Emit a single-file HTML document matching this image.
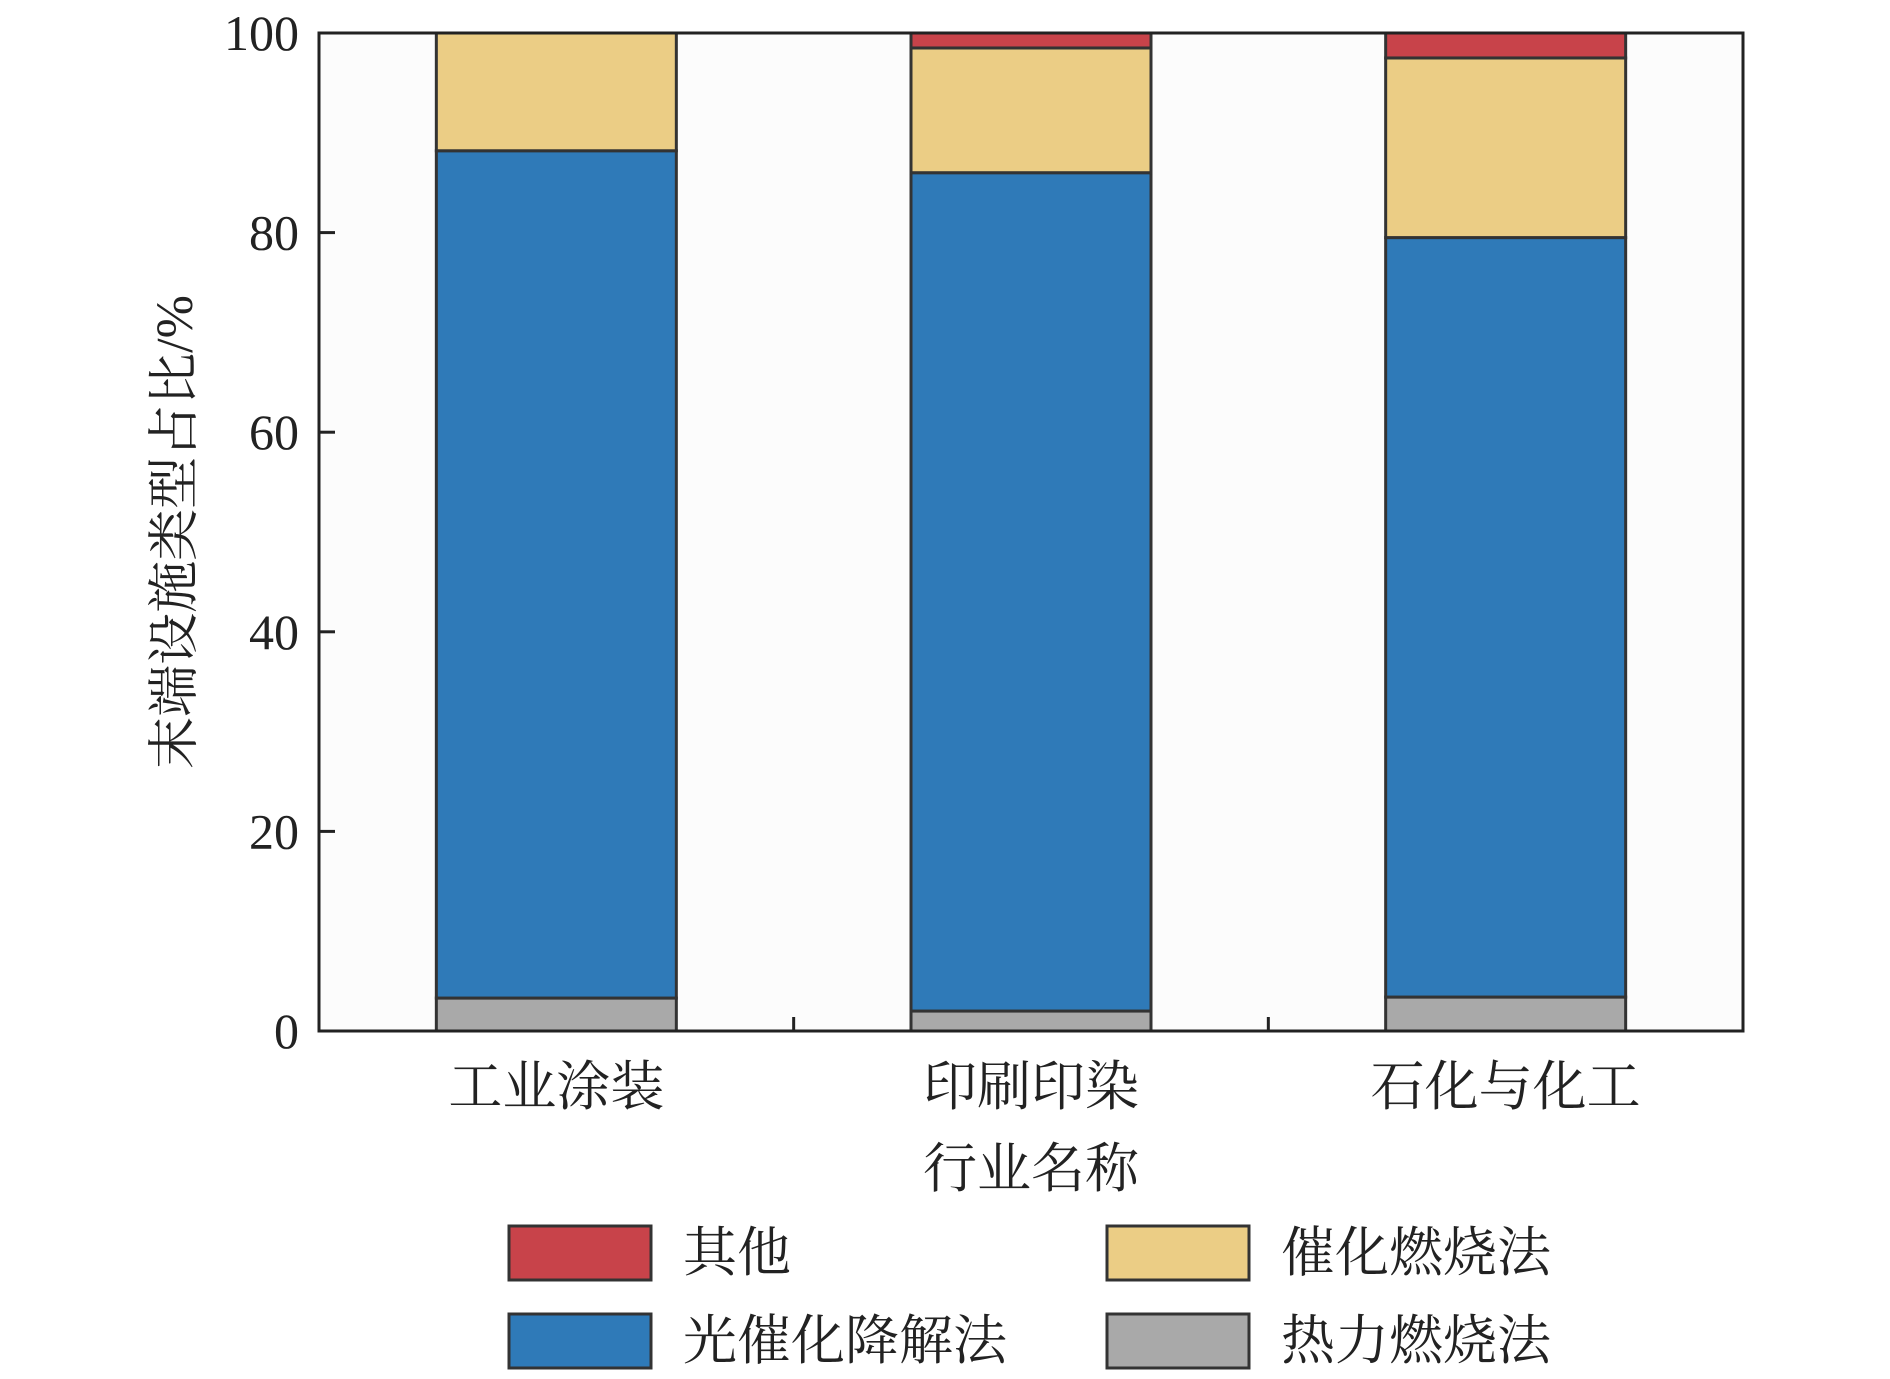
<!DOCTYPE html>
<html><head><meta charset="utf-8"><style>
body{margin:0;background:#fff}
svg text{font-family:"Liberation Serif","Noto Serif CJK SC","Noto Sans CJK SC",serif;fill:#222}
</style></head><body>
<svg id="chart" width="1890" height="1374" viewBox="0 0 1890 1374" xmlns="http://www.w3.org/2000/svg">
<rect x="0" y="0" width="1890" height="1374" fill="#fff"/>
<rect x="319" y="33" width="1424" height="998" fill="#fcfcfc"/>
<g id="bars"></g>
<rect x="319" y="33" width="1424" height="998" fill="none" stroke="#222" stroke-width="3"/>
<g id="axes"></g>
<text transform="translate(192,532) rotate(-90)" text-anchor="middle" font-size="52">末端设施类型占比/%</text>
<text x="1031" y="1187" text-anchor="middle" font-size="54">行业名称</text>
<g id="legend"></g>
</svg>
<script>
const categories=["工业涂装","印刷印染","石化与化工"];
const seriesNames=["热力燃烧法","光催化降解法","催化燃烧法","其他"];
const thermal=[3.3,2.0,3.4];
const photo=[84.9,84.0,76.1];
const catalytic=[11.8,12.5,18.0];
const other=[0.0,1.5,2.5];
const yTicks=[0,20,40,60,80,100];
const colors=["#a9a9a9","#2f7ab8","#ebcd85","#c8434a"];
const NS="http://www.w3.org/2000/svg";
const L=319,R=1743,T=33,B=1031;
const y=v=>B-(v/100)*(B-T);
const band=(R-L)/categories.length;
const xc=i=>L+band*(i+0.5);
const bw=240;
function mk(tag,attrs,parent){const e=document.createElementNS(NS,tag);for(const k in attrs)e.setAttribute(k,attrs[k]);parent.appendChild(e);return e;}
const bars=document.getElementById('bars');
const series=[thermal,photo,catalytic,other];
categories.forEach((c,i)=>{
  let acc=0;
  series.forEach((s,j)=>{
    const v=s[i];
    if(v>0){
      const r=mk('rect',{x:xc(i)-bw/2,y:y(acc+v),width:bw,height:y(acc)-y(acc+v),fill:colors[j],stroke:'#333','stroke-width':3},bars);
      
      
    }
    acc+=v;
  });
  const t=mk('text',{x:xc(i),y:1105,'text-anchor':'middle','font-size':54},bars);
  t.textContent=c;
  
  
});
const axes=document.getElementById('axes');
yTicks.forEach(v=>{
  const l=mk('line',{x1:L,x2:L+16,y1:y(v),y2:y(v),stroke:'#222','stroke-width':3},axes);
  
  
  const t=mk('text',{x:L-20,y:y(v)+17,'text-anchor':'end','font-size':50},axes);
  t.textContent=v;
  
  
});
for(let i=1;i<categories.length;i++){
  const l=mk('line',{x1:L+band*i,x2:L+band*i,y1:B,y2:B-14,stroke:'#222','stroke-width':3},axes);
  
  
}
const legend=document.getElementById('legend');
const legendItems=[[3,509,1226],[2,1107,1226],[1,509,1314],[0,1107,1314]];
legendItems.forEach(([j,lx,ly])=>{
  const g=mk('g',{},legend);
  
  
  const r=mk('rect',{x:lx,y:ly,width:142,height:54,fill:colors[j],stroke:'#333','stroke-width':3},g);
  
  
  const t=mk('text',{x:lx+174,y:ly+45,'font-size':54},g);
  t.textContent=seriesNames[j];
  
  
});
</script>
</body></html>
